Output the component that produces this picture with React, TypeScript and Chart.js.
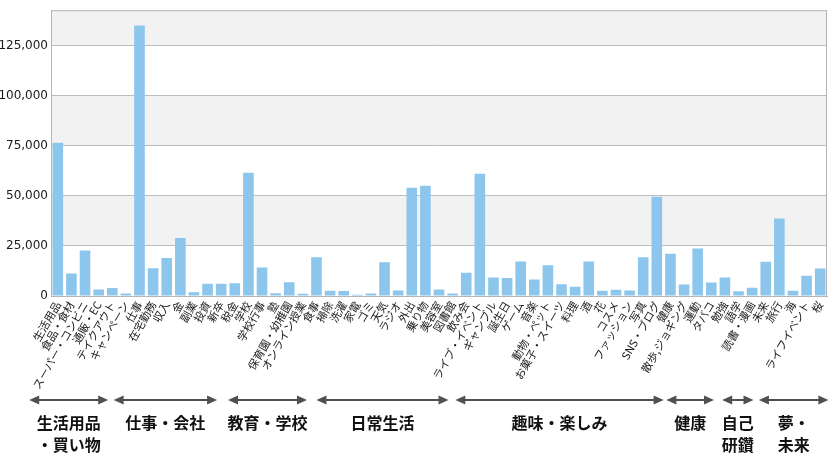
import React, { useEffect, useRef } from "react";
import { Chart, registerables } from "chart.js";

Chart.register(...registerables);

const categories: string[] = [
  "生活用品", "食品・食材", "スーパー・コンビニ", "通販・EC", "テイクアウト", "キャンペーン",
  "仕事", "在宅勤務", "収入", "金", "副業", "投資", "新卒", "税金",
  "学校", "学校行事", "塾", "保育園・幼稚園", "オンライン授業",
  "食事", "掃除", "洗濯", "家電", "ゴミ", "天気", "ラジオ", "外出", "乗り物", "美容室", "図書館",
  "飲み会", "ライブ・イベント", "ギャンブル", "誕生日", "ゲーム", "音楽", "動物・ペット", "お菓子・スイーツ",
  "料理", "酒", "花", "コスメ", "ファッション", "写真", "SNS・ブログ",
  "健康", "散歩,ジョギング", "運動", "タバコ",
  "勉強", "語学", "読書・漫画",
  "未来", "旅行", "海", "ライフイベント", "桜",
];

const values: number[] = [
  76500, 11200, 22700, 3200, 4000, 1200,
  135000, 13900, 19000, 29000, 1900, 6100, 6100, 6400,
  61500, 14200, 1400, 6900, 1100,
  19400, 2600, 2500, 600, 1200, 16900, 2800, 54000, 55000, 3200, 1200,
  11600, 61000, 9200, 9000, 17200, 8200, 15400, 5900,
  4600, 17200, 2600, 3100, 2800, 19400, 49600,
  21100, 5700, 23700, 6700,
  9200, 2400, 4100,
  17100, 38700, 2600, 10100, 13700,
];

const yTicks: number[] = [0, 25000, 50000, 75000, 100000, 125000];
const yMax = 142700;

// group annotations: label lines, start/end in category-edge units
const groupLabels: string[][] = [
  ["生活用品", "・買い物"], ["仕事・会社"], ["教育・学校"], ["日常生活"],
  ["趣味・楽しみ"], ["健康"], ["自己", "研鑽"], ["夢・", "未来"],
];
const groupStart: number[] = [-1.6, 4.6, 13.0, 19.5, 29.7, 45.2, 49.3, 52.0];
const groupEnd: number[] = [4.2, 12.2, 18.8, 29.2, 45.0, 48.7, 51.6, 57.1];

const BAR = "#8DC6EC";
const BAND = "#F2F2F2";
const GRID = "#BDBDBD";

const bandsPlugin = {
  id: "bands",
  beforeDraw(chart: any) {
    const { ctx, chartArea, scales } = chart;
    const y = scales.y;
    ctx.save();
    ctx.fillStyle = "#ffffff";
    ctx.fillRect(chartArea.left, chartArea.top, chartArea.right - chartArea.left, chartArea.bottom - chartArea.top);
    ctx.fillStyle = BAND;
    for (let i = 1; i < yTicks.length; i += 2) {
      const lo = yTicks[i];
      const hi = i + 1 < yTicks.length ? yTicks[i + 1] : yMax;
      const yTop = y.getPixelForValue(hi);
      const yBot = y.getPixelForValue(lo);
      ctx.fillRect(chartArea.left, yTop, chartArea.right - chartArea.left, yBot - yTop);
    }
    ctx.restore();
  },
  afterDraw(chart: any) {
    const { ctx, chartArea, scales } = chart;
    const x = scales.x;
    ctx.save();
    ctx.strokeStyle = "#B5B5B5";
    ctx.lineWidth = 1;
    ctx.strokeRect(chartArea.left + 0.5, chartArea.top + 0.5, chartArea.right - chartArea.left - 1, chartArea.bottom - chartArea.top);
    // group arrows
    const ay = 400;
    ctx.lineWidth = 2;
    for (let g = 0; g < groupLabels.length; g++) {
      const x1 = x.getPixelForValue(groupStart[g] - 0.5);
      const x2 = x.getPixelForValue(groupEnd[g] - 0.5);
      const head = 10;
      ctx.strokeStyle = "#505050";
      ctx.fillStyle = "#505050";
      ctx.beginPath();
      ctx.moveTo(x1 + head - 1, ay);
      ctx.lineTo(x2 - head + 1, ay);
      ctx.stroke();
      ctx.beginPath();
      ctx.moveTo(x1, ay);
      ctx.lineTo(x1 + head, ay - 4.5);
      ctx.lineTo(x1 + head, ay + 4.5);
      ctx.closePath();
      ctx.fill();
      ctx.beginPath();
      ctx.moveTo(x2, ay);
      ctx.lineTo(x2 - head, ay - 4.5);
      ctx.lineTo(x2 - head, ay + 4.5);
      ctx.closePath();
      ctx.fill();
      const cx = (x1 + x2) / 2;
      ctx.fillStyle = "#111111";
      ctx.font = "bold 16px 'Noto Sans CJK JP'";
      ctx.textAlign = "center";
      ctx.textBaseline = "middle";
      groupLabels[g].forEach((line, i) => {
        ctx.fillText(line, cx, 423 + i * 21.5);
      });
    }
    ctx.restore();
  },
};

export default function App() {
  const ref = useRef<HTMLCanvasElement | null>(null);
  useEffect(() => {
    if (!ref.current) return;
    const chart = new Chart(ref.current, {
      type: "bar",
      data: {
        labels: categories,
        datasets: [
          {
            data: values,
            backgroundColor: BAR,
            borderWidth: 0,
            barPercentage: 0.78,
            categoryPercentage: 1.0,
          },
        ],
      },
      options: {
        responsive: false,
        animation: false,
        layout: { padding: { top: 6, right: 13, left: 0, bottom: 0 } },
        plugins: { legend: { display: false }, tooltip: { enabled: false } },
        scales: {
          x: {
            grid: { display: false, drawTicks: false },
            border: { display: true, color: GRID },
            ticks: {
              autoSkip: false,
              maxRotation: 60,
              minRotation: 60,
              padding: 3,
              color: "#1a1a1a",
              font: { family: "'Noto Sans CJK JP'", size: 11 },
            },
            afterFit: (s: any) => {
              s.height = 171;
            },
          },
          y: {
            min: 0,
            max: yMax,
            grid: { color: GRID, drawTicks: false },
            border: { display: true, color: GRID },
            afterBuildTicks: (s: any) => {
              s.ticks = yTicks.map((v) => ({ value: v }));
            },
            ticks: {
              includeBounds: false,
              padding: 3,
              color: "#1a1a1a",
              font: { family: "'DejaVu Sans'", size: 12 },
              callback: (v: any) => Number(v).toLocaleString("en-US"),
            },
            afterFit: (s: any) => {
              s.width = 51;
            },
          },
        },
      },
      plugins: [bandsPlugin],
    });
    return () => chart.destroy();
  }, []);
  return (
    <div style={{ position: "fixed", left: 0, top: 0, width: 840, height: 467, background: "#fff" }}>
      <canvas ref={ref} width={840} height={467} style={{ display: "block" }} />
    </div>
  );
}
